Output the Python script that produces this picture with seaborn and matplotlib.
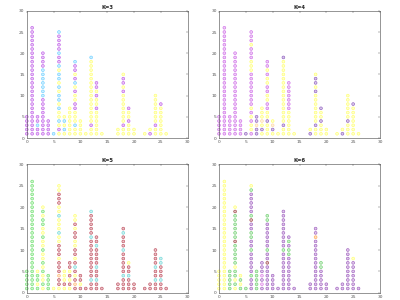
import numpy as np
import pandas as pd
import matplotlib
matplotlib.use('Agg')
import matplotlib.pyplot as plt
import seaborn as sns

# column positions and how many points are stacked in each column
xs = [0, 1, 2, 3, 4, 5, 6, 7, 8, 9, 10, 11, 12, 13, 14, 17, 18, 19, 20, 22, 23, 24, 25, 26]

# cluster labels per column, bottom to top (one letter per point)
labels_k3 = ["aaaaa", "a" * 26, "aabaa", "aaaaaaaaabbbbbbbaaaa", "aaaa", "b",
             "cacbccbcbbcbcbbcbaabaaaab", "cbcbc", "ccccccc", "ccbcccaaccacbacaab",
             "cccc", "c", "ccacccccccccccccccb", "ccccccaccacaa", "c", "cc",
             "ccacccccccacaac", "cccacca", "cc", "c", "ac", "ccaccccccc", "ccccccca", "c"]
labels_k4 = ["aaaaa", "a" * 26, "aaaaa", "a" * 20, "aaaa", "b",
             "accacacaaaaaaaacccaaacaaa", "bbdbb", "cbcdccc", "cccbccaaccaaccacaa",
             "cbdc", "c", "ccbcccccccccccccccb", "ccccccaaaaaaa", "c", "bc",
             "ccbcccccccbcbbc", "cccbccb", "cc", "c", "bc", "cccbcccccc", "cccccccb", "c"]
labels_k5 = ["aaaaa", "a" * 26, "abaab", "babbababbabbabbaabab", "aaaa", "b",
             "bccecccbcccbbdbbbdbbcccbb", "bcbbb", "bcbcbcc", "cecbcdcbccbbccbcbb",
             "cbcc", "c", "ccdcccccccccdcccccd", "ccdccdccccdcc", "c", "cc",
             "cccdcccccdcccdc", "cccdccb", "cc", "c", "cc", "ccdccdcccc", "ccdcccdd", "c"]
labels_k6 = ["aaaaa", "a" * 26, "bbbbb", "ababbabbbbbdbbbbbbda", "baba", "b",
             "cccbcccccbccbbccdbcccccba", "bbbbb", "cfcfccc", "ccccccdccbccccccbb",
             "cccc", "c", "cccccccccbccccccccc", "ccccccccbbcbc", "c", "cc",
             "ccccccccccccecc", "cccccbb", "cc", "c", "cc", "cccccccccc", "ccccccca", "c"]

pal_k3 = {'a': '#c060e8', 'b': '#70d0ff', 'c': '#ffff70'}
pal_k4 = {'a': '#d070e8', 'b': '#9060c0', 'c': '#ffff70', 'd': '#ffd8a0'}
pal_k5 = {'a': '#70e070', 'b': '#ffff70', 'c': '#c05060', 'd': '#70d8d8', 'e': '#ffb870'}
pal_k6 = {'a': '#ffff70', 'b': '#70d070', 'c': '#a060c0', 'd': '#a04848', 'e': '#ffa850',
          'f': '#e080e8'}

panels = [("K=3", labels_k3, pal_k3), ("K=4", labels_k4, pal_k4),
          ("K=5", labels_k5, pal_k5), ("K=6", labels_k6, pal_k6)]

sns.set_theme(style='white')
plt.rcParams['font.family'] = ['DejaVu Sans']

fig = plt.figure(figsize=(4, 3), dpi=100)
boxes = [[0.067, 0.54, 0.402, 0.424], [0.5475, 0.54, 0.4025, 0.424],
         [0.067, 0.024, 0.402, 0.428], [0.5475, 0.024, 0.4025, 0.428]]

for (title, labels, pal), box in zip(panels, boxes):
    ax = fig.add_axes(box)
    rows = []
    for x, lab in zip(xs, labels):
        for i, c in enumerate(lab):
            rows.append((x, i + 1, c))
    df = pd.DataFrame(rows, columns=['x', 'y', 'cluster'])
    sns.scatterplot(data=df, x='x', y='y', hue='cluster', palette=pal, ax=ax,
                    s=4, marker='o', linewidth=0.45, legend=False, clip_on=False)
    # open-ish circles: coloured ring, pale centre
    coll = ax.collections[-1]
    fc = coll.get_facecolors().copy()
    coll.set_edgecolors(fc)
    pale = fc.copy()
    pale[:, :3] = 1 - 0.35 * (1 - pale[:, :3])
    coll.set_facecolors(pale)
    ax.set_xlim(0, 30)
    ax.set_ylim(0, 30)
    ax.set_xticks(range(0, 31, 5))
    ax.set_yticks(range(0, 31, 5))
    ax.set_xlabel('')
    ax.set_ylabel('')
    ax.set_title(title, fontsize=3.8, fontweight='bold', pad=1.5)
    ax.tick_params(labelsize=3.2, direction='in', length=1.5, width=0.3, pad=1.5,
                   top=True, right=True, colors='#555555')
    for sp in ax.spines.values():
        sp.set_linewidth(0.4)
        sp.set_color('#444444')

fig.savefig('out.png', dpi=100)
